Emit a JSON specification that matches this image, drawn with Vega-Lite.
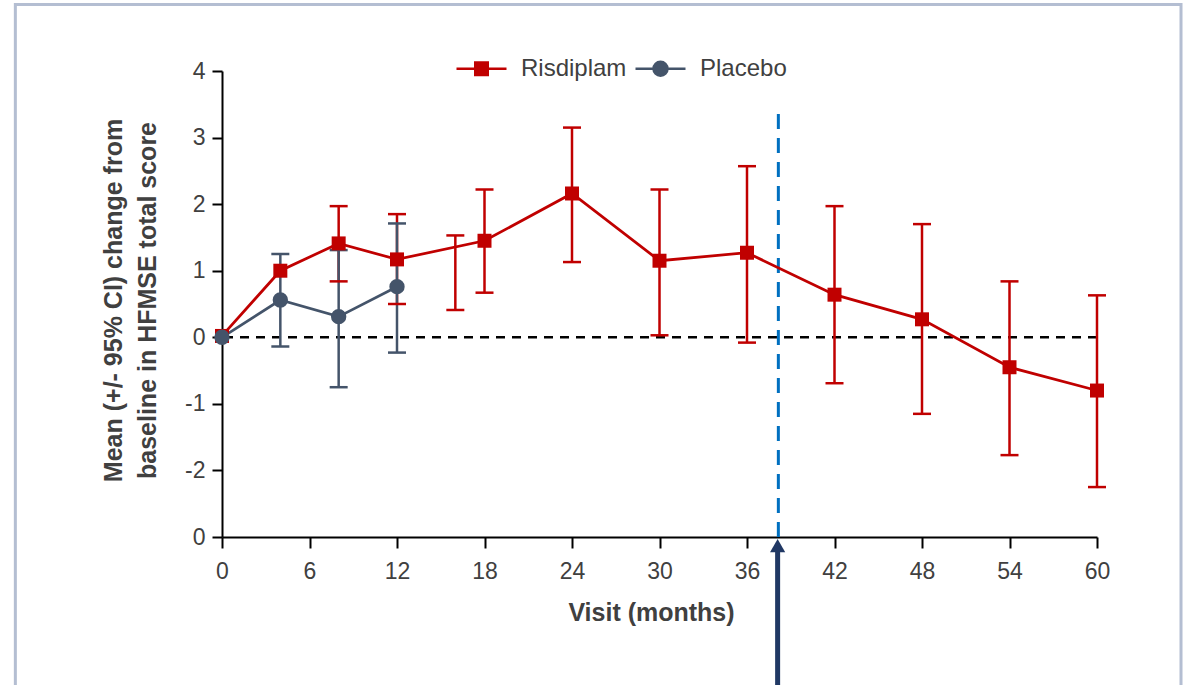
{
  "$schema": "https://vega.github.io/schema/vega-lite/v6.json",
  "width": 875,
  "height": 466,
  "autosize": {"type": "none"},
  "padding": {"left": 222, "top": 71, "right": 93, "bottom": 148},
  "background": "white",
  "config": {"view": {"stroke": null}, "font": "Liberation Sans"},
  "resolve": {"legend": {"color": "independent"}},
  "datasets": {
    "series": [
      {"month": 0, "group": "Risdiplam", "mean": 0.02, "lo": null, "hi": null},
      {"month": 4, "group": "Risdiplam", "mean": 1.0, "lo": null, "hi": null},
      {"month": 8, "group": "Risdiplam", "mean": 1.41, "lo": 0.84, "hi": 1.97},
      {"month": 12, "group": "Risdiplam", "mean": 1.17, "lo": 0.5, "hi": 1.85},
      {"month": 16, "group": "Risdiplam", "mean": null, "lo": 0.41, "hi": 1.53},
      {"month": 18, "group": "Risdiplam", "mean": 1.45, "lo": 0.67, "hi": 2.22},
      {"month": 24, "group": "Risdiplam", "mean": 2.16, "lo": 1.13, "hi": 3.15},
      {"month": 30, "group": "Risdiplam", "mean": 1.15, "lo": 0.03, "hi": 2.22},
      {"month": 36, "group": "Risdiplam", "mean": 1.27, "lo": -0.08, "hi": 2.57},
      {"month": 42, "group": "Risdiplam", "mean": 0.64, "lo": -0.69, "hi": 1.97},
      {"month": 48, "group": "Risdiplam", "mean": 0.27, "lo": -1.15, "hi": 1.7},
      {"month": 54, "group": "Risdiplam", "mean": -0.45, "lo": -1.77, "hi": 0.84},
      {"month": 60, "group": "Risdiplam", "mean": -0.8, "lo": -2.25, "hi": 0.63},
      {"month": 0, "group": "Placebo", "mean": 0.0, "lo": null, "hi": null},
      {"month": 4, "group": "Placebo", "mean": 0.56, "lo": -0.14, "hi": 1.25},
      {"month": 8, "group": "Placebo", "mean": 0.31, "lo": -0.75, "hi": 1.31},
      {"month": 12, "group": "Placebo", "mean": 0.76, "lo": -0.23, "hi": 1.71}
    ]
  },
  "data": {"name": "series"},
  "layer": [
    {
      "data": {"values": [{}]},
      "mark": {"type": "rect", "fill": "transparent", "stroke": "#B4BED2", "strokeWidth": 3},
      "encoding": {
        "x": {"datum": -14.17, "type": "quantitative"},
        "x2": {"datum": 65.76},
        "y": {"datum": 5.0, "type": "quantitative"},
        "y2": {"datum": -6}
      }
    },
    {
      "data": {"values": [{}]},
      "mark": {"type": "rule", "color": "black", "strokeWidth": 2.5, "strokeDash": [9, 7]},
      "encoding": {
        "y": {"datum": 0, "type": "quantitative"}
      }
    },
    {
      "data": {"values": [{}]},
      "mark": {"type": "rule", "color": "#0070C0", "strokeWidth": 3, "strokeDash": [15, 9]},
      "encoding": {
        "x": {"datum": 38.15, "type": "quantitative"},
        "y": {"datum": -3, "type": "quantitative"},
        "y2": {"datum": 3.46}
      }
    },
    {
      "data": {"values": [{}]},
      "mark": {"type": "rule", "color": "#203864", "strokeWidth": 5},
      "encoding": {
        "x": {"datum": 38.1, "type": "quantitative"},
        "y": {"datum": -3.2, "type": "quantitative"},
        "y2": {"datum": -5.4}
      }
    },
    {
      "data": {"values": [{}]},
      "mark": {"type": "point", "shape": "triangle-up", "filled": true, "color": "#203864", "opacity": 1, "size": 230},
      "encoding": {
        "x": {"datum": 38.1, "type": "quantitative"},
        "y": {"datum": -3.13, "type": "quantitative"}
      }
    },
    {
      "transform": [{"filter": "isValid(datum.lo)"}],
      "mark": {"type": "rule", "strokeWidth": 2.5},
      "encoding": {
        "x": {"field": "month", "type": "quantitative"},
        "y": {"field": "lo", "type": "quantitative"},
        "y2": {"field": "hi"},
        "color": {"field": "group", "type": "nominal", "legend": null}
      }
    },
    {
      "transform": [{"filter": "isValid(datum.lo)"}],
      "mark": {"type": "tick", "orient": "horizontal", "size": 18, "thickness": 2.5, "opacity": 1},
      "encoding": {
        "x": {"field": "month", "type": "quantitative"},
        "y": {"field": "lo", "type": "quantitative"},
        "color": {"field": "group", "type": "nominal", "legend": null}
      }
    },
    {
      "transform": [{"filter": "isValid(datum.hi)"}],
      "mark": {"type": "tick", "orient": "horizontal", "size": 18, "thickness": 2.5, "opacity": 1},
      "encoding": {
        "x": {"field": "month", "type": "quantitative"},
        "y": {"field": "hi", "type": "quantitative"},
        "color": {"field": "group", "type": "nominal", "legend": null}
      }
    },
    {
      "transform": [{"filter": "isValid(datum.mean)"}],
      "mark": {"type": "line", "strokeWidth": 2.75},
      "encoding": {
        "x": {
          "field": "month",
          "type": "quantitative",
          "scale": {"domain": [0, 60], "nice": false, "zero": false},
          "axis": {
            "values": [0, 6, 12, 18, 24, 30, 36, 42, 48, 54, 60],
            "grid": false,
            "domainColor": "black",
            "domainWidth": 2,
            "tickColor": "black",
            "tickWidth": 2,
            "tickSize": 11,
            "labelFont": "Liberation Sans",
            "labelFontSize": 23,
            "labelColor": "#404040",
            "labelPadding": 12,
            "labelFlush": false,
            "title": "Visit (months)",
            "titleFont": "Liberation Sans",
            "titleFontSize": 25,
            "titleFontWeight": "bold",
            "titleColor": "#404040",
            "titleX": 429,
            "titleY": 75,
            "titleBaseline": "middle",
            "titleAlign": "center"
          }
        },
        "y": {
          "field": "mean",
          "type": "quantitative",
          "scale": {"domain": [-3, 4], "nice": false, "zero": false},
          "axis": {
            "values": [-3, -2, -1, 0, 1, 2, 3, 4],
            "labelExpr": "datum.value === -3 ? '0' : toString(datum.value)",
            "grid": false,
            "domainColor": "black",
            "domainWidth": 2,
            "tickColor": "black",
            "tickWidth": 2,
            "tickSize": 10,
            "labelFont": "Liberation Sans",
            "labelFontSize": 23,
            "labelColor": "#404040",
            "labelPadding": 7,
            "labelFlush": false,
            "title": ["Mean (+/- 95% CI) change from", "baseline in HFMSE total score"],
            "titleFont": "Liberation Sans",
            "titleFontSize": 25,
            "titleFontWeight": "bold",
            "titleColor": "#404040",
            "titleAngle": -90,
            "titleX": -101,
            "titleY": 229,
            "titleAlign": "center",
            "titleBaseline": "alphabetic",
            "titleLineHeight": 34
          }
        },
        "color": {
          "field": "group",
          "type": "nominal",
          "scale": {"domain": ["Risdiplam", "Placebo"], "range": ["#C00000", "#44546A"]},
          "legend": {
            "orient": "none",
            "legendX": 233,
            "legendY": -29,
            "direction": "horizontal",
            "title": null,
            "padding": 0,
            "labelFont": "Liberation Sans",
            "labelFontSize": 24,
            "labelColor": "#404040",
            "labelOffset": 13,
            "columnPadding": 3,
            "symbolSize": 2500,
            "symbolStrokeWidth": 2.5,
            "encode": {
              "symbols": {
                "update": {
                  "shape": {"signal": "datum.value === 'Risdiplam' ? 'M-1,0H1M-0.25,-0.25H0.25V0.25H-0.25Z' : 'M-1,0H1M-0.28,0A0.28,0.28,0,1,1,0.28,0A0.28,0.28,0,1,1,-0.28,0Z'"},
                  "fill": {"signal": "datum.value === 'Risdiplam' ? '#C00000' : '#44546A'"},
                  "stroke": {"signal": "datum.value === 'Risdiplam' ? '#C00000' : '#44546A'"},
                  "strokeWidth": {"value": 2.5},
                  "opacity": {"value": 1}
                }
              }
            }
          }
        }
      }
    },
    {
      "transform": [{"filter": "isValid(datum.mean)"}],
      "mark": {"type": "point", "filled": true, "opacity": 1},
      "encoding": {
        "x": {"field": "month", "type": "quantitative"},
        "y": {"field": "mean", "type": "quantitative"},
        "color": {"field": "group", "type": "nominal", "legend": null},
        "shape": {"field": "group", "type": "nominal", "scale": {"domain": ["Risdiplam", "Placebo"], "range": ["square", "circle"]}, "legend": null},
        "size": {"field": "group", "type": "ordinal", "scale": {"domain": ["Risdiplam", "Placebo"], "range": [196, 235]}, "legend": null}
      }
    }
  ]
}
